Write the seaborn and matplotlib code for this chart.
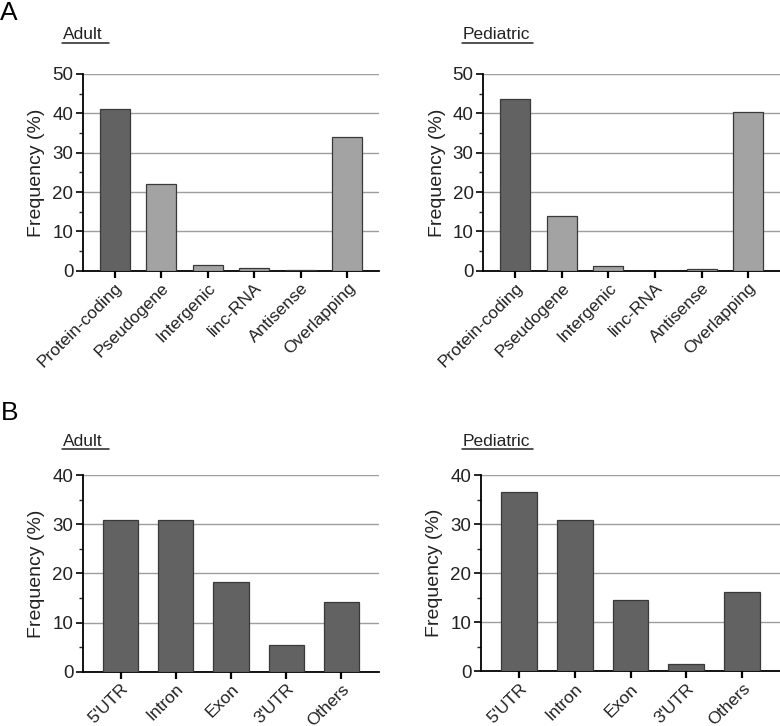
import matplotlib
matplotlib.use("Agg")
import matplotlib.pyplot as plt
from matplotlib.lines import Line2D
from matplotlib.ticker import MultipleLocator
import seaborn as sns
import pandas as pd

sns.set_theme(style="white")
plt.rcParams['font.family'] = ['Liberation Sans', 'DejaVu Sans']

# ---- data ----
biotype_cats = ["Protein-coding", "Pseudogene", "Intergenic", "linc-RNA", "Antisense", "Overlapping"]
biotype_adult = [41.1, 22.1, 1.4, 0.6, 0.1, 33.9]
biotype_pediatric = [43.6, 14.0, 1.2, 0.0, 0.5, 40.3]

region_cats = ["5'UTR", "Intron", "Exon", "3'UTR", "Others"]
region_adult = [30.9, 30.9, 18.2, 5.4, 14.2]
region_pediatric = [36.5, 30.8, 14.6, 1.4, 16.1]

dark = "#626262"
light = "#a3a3a3"
biotype_colors = [dark, light, light, light, light, light]
region_colors = [dark] * 5

W, H = 780, 726
fig = plt.figure(figsize=(W / 100, H / 100), dpi=100)


def fx(px):
    return px / W


def fy(py):
    return 1 - py / H


def make_ax(left, right, top, bottom):
    return fig.add_axes([fx(left), fy(bottom), fx(right) - fx(left), fy(top) - fy(bottom)])


def draw(ax, cats, vals, colors, ymax, step):
    df = pd.DataFrame({"cat": cats, "val": vals})
    sns.barplot(data=df, x="cat", y="val", hue="cat", palette=colors, legend=False,
                width=0.64, edgecolor="#3a3a3a", linewidth=0.9, ax=ax, zorder=3)
    n = len(cats)
    ax.set_xlim(-0.68, n - 1 + 0.68)
    ax.set_ylim(0, ymax)
    ax.yaxis.set_major_locator(MultipleLocator(step))
    ax.yaxis.set_minor_locator(MultipleLocator(step / 2))
    ax.grid(axis="y", color="#9e9e9e", linewidth=1.0, zorder=0)
    ax.set_axisbelow(True)
    for s in ["top", "right"]:
        ax.spines[s].set_visible(False)
    for s in ["left", "bottom"]:
        ax.spines[s].set_color("black")
        ax.spines[s].set_linewidth(1.3)
    ax.tick_params(axis="y", which="major", direction="out", length=5, width=1.2,
                   labelsize=13.5, colors="black", left=True, pad=2)
    ax.tick_params(axis="y", which="minor", direction="out", length=3, width=1.0, left=True)
    ax.tick_params(axis="x", which="major", direction="out", length=5, width=1.6,
                   labelsize=12.5, colors="black", bottom=True, pad=2)
    ax.set_xticks(range(n))
    ax.set_xticklabels(cats, rotation=45, ha="right", rotation_mode="anchor")
    for lab in ax.get_yticklabels() + ax.get_xticklabels():
        lab.set_color("#222222")
    ax.set_xlabel("")
    ax.set_ylabel("Frequency (%)", fontsize=14, color="#222222", labelpad=5)


ax1 = make_ax(83, 379, 74, 270.7)
draw(ax1, biotype_cats, biotype_adult, biotype_colors, 50, 10)
ax2 = make_ax(483.3, 780, 74, 270.7)
draw(ax2, biotype_cats, biotype_pediatric, biotype_colors, 50, 10)
ax3 = make_ax(83, 379, 475, 671.7)
draw(ax3, region_cats, region_adult, region_colors, 40, 10)
ax4 = make_ax(481, 780, 475, 671.3)
draw(ax4, region_cats, region_pediatric, region_colors, 40, 10)


def title(x0, x1, ybase, yline, txt):
    fig.text(fx(x0), fy(ybase), txt, fontsize=12.5, color="#222222", ha="left", va="baseline")
    fig.add_artist(Line2D([fx(x0 - 1), fx(x1)], [fy(yline), fy(yline)],
                          color="#222222", linewidth=1.1, transform=fig.transFigure))


title(63, 109, 39, 42.5, "Adult")
title(463, 533, 39, 42.5, "Pediatric")
title(63, 109, 446, 449, "Adult")
title(463, 533, 446, 449, "Pediatric")

fig.text(fx(0), fy(20), "A", fontsize=19, color="black", ha="left", va="baseline")
fig.text(fx(1), fy(420), "B", fontsize=19, color="black", ha="left", va="baseline")

fig.savefig("out.png", dpi=100)
